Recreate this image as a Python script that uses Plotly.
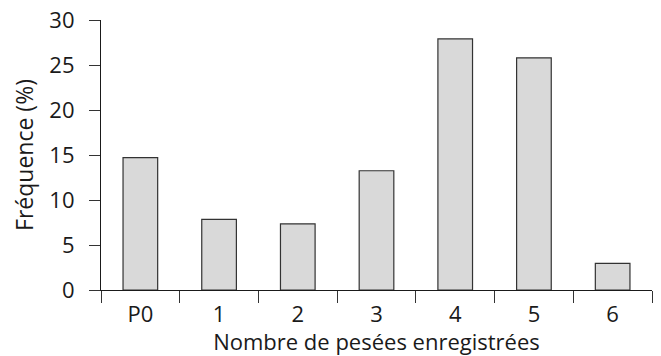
import plotly.graph_objects as go

categories = ["P0", "1", "2", "3", "4", "5", "6"]
frequence = [14.7, 7.85, 7.35, 13.25, 27.9, 25.8, 2.95]
y_ticks = [0, 5, 10, 15, 20, 25, 30]

fig = go.Figure(go.Bar(
    x=categories, y=frequence, width=0.44,
    marker=dict(color="#d9d9d9", line=dict(color="#333333", width=1.2)),
))

font = dict(family="Open Sans", size=22, color="#1a1a1a")
fig.update_layout(
    width=653, height=348,
    margin=dict(l=93, r=9, t=12, b=66),
    paper_bgcolor="white", plot_bgcolor="white",
    font=font, showlegend=False,
)
fig.update_xaxes(
    type="category", range=[-0.5, 6.5], tickson="boundaries",
    ticks="outside", ticklen=12, tickwidth=1.2, tickcolor="#333333",
    showline=True, linecolor="#1a1a1a", linewidth=1.2, ticklabelstandoff=4,
    ticklabeloverflow="allow", tickfont=dict(size=22),
    showgrid=False, zeroline=False, automargin=False,
    title=dict(text="Nombre de pesées enregistrées", standoff=7,
               font=dict(family="Open Sans", size=22, color="#1a1a1a")),
)
fig.update_yaxes(
    range=[0, 30], tickvals=y_ticks,
    ticks="outside", ticklen=11, tickwidth=1.2, tickcolor="#333333",
    showline=True, linecolor="#1a1a1a", linewidth=1.2, ticklabelstandoff=10,
    ticklabeloverflow="allow", tickfont=dict(size=22),
    showgrid=False, zeroline=False, automargin=False,
    title=dict(text="Fréquence (%)", standoff=9,
               font=dict(family="Open Sans", size=23, color="#1a1a1a")),
)
fig.write_html("out.html")
